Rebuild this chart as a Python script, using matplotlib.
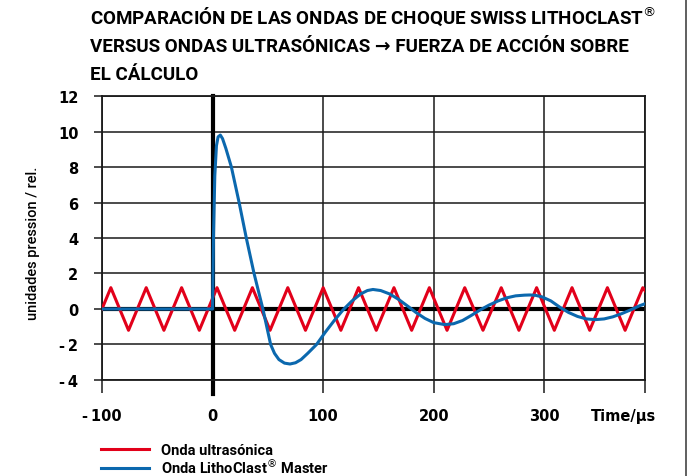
import matplotlib
matplotlib.use("Agg")
import matplotlib.pyplot as plt
from matplotlib.lines import Line2D

plt.rcParams["font.family"] = ["DejaVu Sans"]
plt.rcParams["axes.unicode_minus"] = False

# red: ultrasonic wave, vertices (time in us, relative pressure)
red_t = [-100, -92, -76, -60, -44, -28, -12, 4, 20, 36, 52, 68, 84, 100, 116,
         132, 148, 164, 180, 196, 212, 228, 244.5, 261, 277, 293, 309, 325,
         341, 357, 373, 389, 392]
red_v = [0, 1.2, -1.2, 1.2, -1.2, 1.2, -1.2, 1.2, -1.2, 1.2, -1.2, 1.2, -1.2,
         1.2, -1.2, 1.2, -1.2, 1.2, -1.2, 1.2, -1.2, 1.2, -1.2, 1.2, -1.2, 1.2,
         -1.2, 1.2, -1.2, 1.2, -1.2, 1.2, 0.95]

# blue: LithoClast shock wave
blue_t = [-100, 0, 0.8, 2, 3.5, 5, 7, 9, 12, 17, 24, 30.5, 37.5, 45.5, 52.5,
          56, 60, 65, 70, 75, 80, 86, 94, 102, 110, 118, 126, 134, 140, 145,
          152, 160, 168, 176, 184, 192, 200, 210, 218, 226, 234, 242, 250, 258,
          266, 274, 282, 287, 292, 298, 306, 314, 322, 330, 338, 346, 354, 362,
          370, 378, 386, 392]
blue_v = [0, 0, 4, 7.5, 9.2, 9.7, 9.8, 9.6, 9.05, 8.0, 6.0, 4.0, 2.0, 0.0, -2.0,
          -2.5, -2.85, -3.05, -3.1, -3.03, -2.85, -2.5, -2.0, -1.3, -0.65, -0.05,
          0.45, 0.85, 1.04, 1.1, 1.04, 0.85, 0.55, 0.18, -0.2, -0.53, -0.77,
          -0.88, -0.83, -0.65, -0.36, -0.05, 0.22, 0.45, 0.63, 0.74, 0.78, 0.79,
          0.77, 0.68, 0.45, 0.1, -0.2, -0.42, -0.56, -0.6, -0.56, -0.44, -0.26,
          -0.05, 0.18, 0.32]

x_ticks = [-100, 0, 100, 200, 300]
x_labels = ["-\u2009100", "0", "100", "200", "300"]
y_ticks = [-4, -2, 0, 2, 4, 6, 8, 10, 12]
y_labels = ["-\u20094", "-\u20092", "0", "2", "4", "6", "8", "10", "12"]

title = ("COMPARACIÓN DE LAS ONDAS DE CHOQUE SWISS LITHOCLAST$^{\u00ae}$\n"
         "VERSUS ONDAS ULTRASÓNICAS \u2192 FUERZA DE ACCIÓN SOBRE\n"
         "EL CÁLCULO")

RED = "#e2001a"
BLUE = "#0b68ae"
FAM = ["Roboto", "DejaVu Sans"]

fig = plt.figure(figsize=(6.9, 4.77), dpi=100)
ax = fig.add_axes([0.1478, 0.2013, 0.9348 - 0.1478, 0.7966 - 0.2013])

x_max = 391
ax.set_xlim(-100, x_max)
ax.set_ylim(-4, 12)

ax.set_xticks(x_ticks + [x_max])
ax.set_xticklabels(x_labels + [""])
ax.set_yticks(y_ticks)
ax.set_yticklabels(y_labels)
ax.grid(True, color="#1a1a1a", linewidth=1.1)
for s in ax.spines.values():
    s.set_color("#1a1a1a")
    s.set_linewidth(1.3)
ax.tick_params(axis="x", length=9, width=1.1, color="#1a1a1a", pad=11,
               labelsize=10.5)
ax.tick_params(axis="y", length=6, width=1.1, color="#1a1a1a", pad=11,
               labelsize=10.5)
for lab in ax.get_xticklabels() + ax.get_yticklabels():
    lab.set_fontweight("bold")

ax.axhline(0, color="black", linewidth=3, zorder=2)
ax.plot([0, 0], [-4.8, 12], color="black", linewidth=3, clip_on=False, zorder=2)

ax.plot(red_t, red_v, color=RED, linewidth=2.2, solid_joinstyle="round",
        zorder=3, label="Onda ultrasónica")
ax.plot(blue_t, blue_v, color=BLUE, linewidth=2.2, solid_joinstyle="round",
        zorder=4, label="Onda LithoClast$^{\u00ae}$ Master")

ax.text(0.96, -0.1, "Time/\u00b5s", transform=ax.transAxes, ha="center",
        va="top", fontsize=10.5, fontweight="bold")

ax.set_ylabel("unidades pression / rel.", fontsize=10.5, fontweight="medium",
              family=FAM)
ax.yaxis.set_label_coords(-0.114, 0.485)

fig.text(0.131, 0.99, title, ha="left", va="top", fontsize=13.5,
         fontweight="bold", family=FAM, linespacing=1.72)

ax.legend(loc="upper left", bbox_to_anchor=(-0.012, -0.2), frameon=False,
          prop={"weight": "bold", "size": 10.5, "family": FAM},
          handlelength=3.3, handletextpad=0.8, labelspacing=0.0,
          borderaxespad=0)

fig.add_artist(Line2D([686 / 690, 686 / 690], [0, 1], color="#444444",
                      linewidth=1.2))

fig.savefig("out.png", dpi=100)
